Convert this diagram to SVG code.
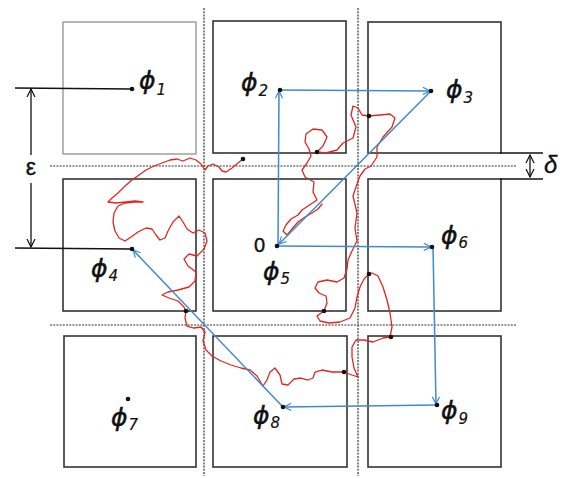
<svg xmlns="http://www.w3.org/2000/svg" width="570" height="479" viewBox="0 0 570 479">
<defs>
<style>
.box{fill:#fff;stroke:#333;stroke-width:1.6}
.box1{fill:#fff;stroke:#999;stroke-width:1.4}
.dash{stroke:#333;stroke-width:1.2;stroke-dasharray:2 1.2;fill:none}
.blk{stroke:#111;stroke-width:1.3;fill:none}
.blue{stroke:#3d8bd0;stroke-width:1.5;fill:none;marker-end:url(#ab)}
.walk{stroke:#e2261f;stroke-width:1.3;fill:none;stroke-linejoin:round;stroke-linecap:round}
.phi{font-family:"DejaVu Sans","Liberation Sans",sans-serif;font-style:oblique;font-size:25px;fill:#111;stroke:#111;stroke-width:0.5}
.sub{font-size:15px;stroke-width:0.2}
.lbl{font-family:"Liberation Sans","DejaVu Sans",sans-serif;fill:#111}
</style>
<marker id="ab" viewBox="0 0 10 10" refX="9" refY="5" markerWidth="9" markerHeight="9" markerUnits="userSpaceOnUse" orient="auto">
<path d="M1,1 L9,5 L1,9" fill="none" stroke="#3d8bd0" stroke-width="1.3"/>
</marker>
<marker id="ak" viewBox="0 0 10 10" refX="9" refY="5" markerWidth="10" markerHeight="10" markerUnits="userSpaceOnUse" orient="auto">
<path d="M1,1 L9,5 L1,9" fill="none" stroke="#111" stroke-width="1.2"/>
</marker>
<marker id="aks" viewBox="0 0 10 10" refX="1" refY="5" markerWidth="10" markerHeight="10" markerUnits="userSpaceOnUse" orient="auto">
<path d="M9,1 L1,5 L9,9" fill="none" stroke="#111" stroke-width="1.2"/>
</marker>
</defs>
<rect width="570" height="479" fill="#fff"/>

<g id="grid">
<line class="dash" x1="204" y1="8" x2="204" y2="476"/>
<line class="dash" x1="358" y1="8" x2="358" y2="476"/>
<line class="dash" x1="50" y1="166" x2="517" y2="166"/>
<line class="dash" x1="50" y1="325" x2="517" y2="325"/>
</g>

<g id="node1"><rect class="box1" x="63" y="22" width="133" height="132"/><text class="phi" x="139" y="89">ϕ<tspan class="sub" dx="1" dy="6">1</tspan></text></g>
<g id="node2"><rect class="box" x="213" y="21" width="133" height="132"/><text class="phi" x="241" y="91">ϕ<tspan class="sub" dx="1" dy="5">2</tspan></text></g>
<g id="node3"><rect class="box" x="368" y="22" width="133" height="131"/><text class="phi" x="446" y="98">ϕ<tspan class="sub" dx="1" dy="5">3</tspan></text></g>
<g id="node4"><rect class="box" x="63" y="179" width="133" height="132"/><text class="phi" x="91" y="277">ϕ<tspan class="sub" dx="1" dy="4">4</tspan></text></g>
<g id="node5"><rect class="box" x="213" y="179" width="133" height="132"/><text class="lbl" x="254" y="252" font-size="20" stroke="#111" stroke-width="0.4">0</text><text class="phi" x="263" y="280">ϕ<tspan class="sub" dx="1" dy="4">5</tspan></text></g>
<g id="node6"><rect class="box" x="368" y="179" width="133" height="132"/><text class="phi" x="441" y="244">ϕ<tspan class="sub" dx="1" dy="4">6</tspan></text></g>
<g id="node7"><rect class="box" x="64" y="336" width="132" height="131"/><text class="phi" x="111" y="426">ϕ<tspan class="sub" dx="1" dy="4">7</tspan></text><circle cx="128" cy="399" r="2.3" fill="#111"/></g>
<g id="node8"><rect class="box" x="213" y="336" width="134" height="131"/><text class="phi" x="253" y="424">ϕ<tspan class="sub" dx="1" dy="4">8</tspan></text></g>
<g id="node9"><rect class="box" x="368" y="336" width="133" height="131"/><text class="phi" x="441" y="419">ϕ<tspan class="sub" dx="1" dy="5">9</tspan></text></g>

<g id="dimensions">
<line class="blk" x1="15" y1="88" x2="132" y2="89"/>
<line class="blk" x1="15" y1="248" x2="132" y2="249"/>
<line class="blk" x1="31" y1="155" x2="31" y2="89" marker-end="url(#ak)"/>
<line class="blk" x1="31" y1="183" x2="31" y2="247" marker-end="url(#ak)"/>
<text class="lbl" x="31" y="175" font-size="23" text-anchor="middle" stroke="#111" stroke-width="0.4">ε</text>
<line class="blk" x1="500" y1="153" x2="543" y2="153"/>
<line class="blk" x1="500" y1="179" x2="543" y2="179"/>
<line class="blk" x1="530" y1="155" x2="530" y2="177" marker-start="url(#aks)" marker-end="url(#ak)"/>
<text class="lbl" x="544" y="173" font-size="24" font-style="italic" stroke="#111" stroke-width="0.3">δ</text>
</g>

<g id="walk">
<path class="walk" d="M243,159 L238,163 L232,168 L226,172 L222,171 L219,167 L213,164 L208,166 L205,170 L201,164 L196,160 L190,158 L183,161 L177,159 L170,160 L162,163 L154,166 L146,170 L139,175 L132,180 L125,186 L118,193 L112,198 L108,202 L116,203 L126,202 L135,201 L143,202 L134,202 L125,203 L118,206 L114,213 L113,222 L115,231 L119,238 L125,241 L131,237 L138,232 L146,228 L152,229 L156,235 L160,240 L165,238 L168,231 L173,222 L179,216 L183,222 L187,229 L193,233 L199,230 L205,233 L207,241 L204,249 L197,256 L189,254 L184,259 L188,266 L196,272 L195,281 L189,287 L178,290 L168,292 L162,295 L169,298 L178,301 L184,307 L186,311 L185,318 L187,326 L194,328 L201,327 L205,332 L203,341 L206,350 L212,356 L221,361 L231,365 L241,368 L250,370 L257,376 L263,386 L267,380 L270,372 L275,368 L280,375 L282,384 L288,385 L294,379 L301,378 L308,380 L313,378 L315,372 L322,370 L332,372 L344,372 L352,375 L358,377 L354,368 L352,357 L352,347 L356,340 L364,340 L373,342 L383,338 L390,337 L392,327 L390,313 L387,300 L383,287 L378,276 L372,273 L369,274 L364,279 L360,287 L357,297 L355,308 L350,318 L340,322 L329,323 L320,321 L317,316 L324,311 L327,303 L326,296 L319,293 L315,288 L318,282 L327,280 L337,282 L344,278 L347,269 L348,260 L352,251 L357,241 L355,228 L357,213 L353,196 L357,184 L360,176 L365,169 L371,166 L377,157 L377,147 L383,137 L392,127 L395,118 L390,114 L380,115 L369,116 L362,115 L358,108 L353,106 L351,115 L356,127 L353,138 L343,143 L337,150 L326,153 L317,152 L323,146 L327,137 L322,130 L313,129 L306,134 L305,142 L309,149 L311,156 L307,163 L302,170 L305,177 L314,182 L313,192 L317,200 L308,206 L302,210 L298,215 L291,219 L286,225 L283,231 L287,235 L292,229 L298,222 L305,217 L312,213 L318,209 L322,204"/>
</g>

<g id="connectors">
<line class="blue" x1="278" y1="246" x2="279" y2="91"/>
<line class="blue" x1="280" y1="90" x2="430" y2="91"/>
<line class="blue" x1="431" y1="91" x2="279" y2="244"/>
<line class="blue" x1="277" y1="246" x2="431" y2="247"/>
<line class="blue" x1="433" y1="247" x2="436" y2="404"/>
<line class="blue" x1="436" y1="405" x2="284" y2="407"/>
<line class="blue" x1="283" y1="407" x2="133" y2="250"/>
</g>

<g id="dots" fill="#111">
<circle cx="132" cy="89" r="2.3"/><circle cx="280" cy="90" r="2.3"/><circle cx="431" cy="91" r="2.3"/>
<circle cx="132" cy="249" r="2.3"/><circle cx="277" cy="246" r="2.3"/><circle cx="432" cy="247" r="2.3"/>
<circle cx="283" cy="407" r="2.3"/><circle cx="437" cy="405" r="2.3"/>
<circle cx="243" cy="159" r="2.3"/><circle cx="317" cy="152" r="2.3"/><circle cx="369" cy="116" r="2.3"/>
<circle cx="186" cy="311" r="2.3"/><circle cx="324" cy="311" r="2.3"/><circle cx="369" cy="274" r="2.3"/>
<circle cx="344" cy="372" r="2.3"/><circle cx="391" cy="337" r="2.3"/>
</g>
</svg>
